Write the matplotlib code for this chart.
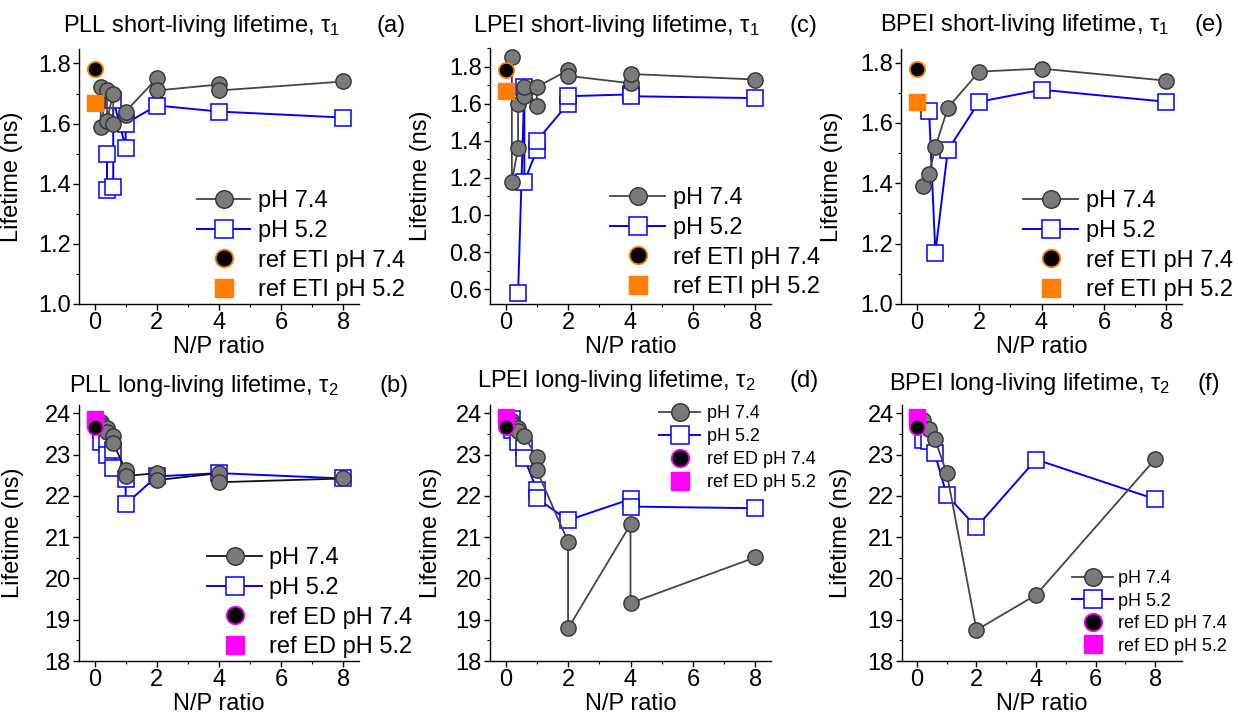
import matplotlib
matplotlib.use('Agg')
import matplotlib.pyplot as plt
from matplotlib.ticker import MultipleLocator, FormatStrFormatter

plt.rcParams['font.family'] = ['Liberation Sans', 'DejaVu Sans']
plt.rcParams['mathtext.fontset'] = 'custom'
plt.rcParams['mathtext.rm'] = 'Liberation Sans'
plt.rcParams['mathtext.it'] = 'Liberation Sans:italic'

W, H = 1238, 717
fig = plt.figure(figsize=(W / 100, H / 100), dpi=100)

# ---------------- data ----------------
ref_x = [0]

# (a) PLL tau1
a_x74 = [0.2, 0.2, 0.4, 0.4, 0.6, 0.6, 1, 1, 2, 2, 4, 4, 8]
a_y74 = [1.72, 1.59, 1.71, 1.61, 1.70, 1.60, 1.63, 1.64, 1.75, 1.71, 1.73, 1.71, 1.74]
a_x52 = [0.4, 0.4, 0.6, 0.6, 1, 1, 2, 4, 8]
a_y52 = [1.50, 1.38, 1.39, 1.68, 1.52, 1.60, 1.66, 1.64, 1.62]
a_ref74 = [1.78]
a_ref52 = [1.67]

# (b) PLL tau2
b_x74 = [0.2, 0.2, 0.4, 0.4, 0.6, 0.6, 1, 1, 2, 2, 4, 4, 8]
b_y74 = [23.80, 23.72, 23.65, 23.55, 23.45, 23.28, 22.62, 22.48, 22.55, 22.38, 22.55, 22.33, 22.42]
b_x52 = [0.2, 0.2, 0.4, 0.4, 0.6, 0.6, 1, 1, 2, 4, 8]
b_y52 = [23.60, 23.30, 23.35, 23.00, 23.10, 22.67, 22.40, 21.80, 22.47, 22.55, 22.42]
b_ref74 = [23.67]
b_ref52 = [23.86]

# (c) LPEI tau1
c_x74 = [0.2, 0.2, 0.4, 0.4, 0.6, 0.6, 1, 1, 2, 2, 4, 4, 8]
c_y74 = [1.85, 1.18, 1.36, 1.60, 1.64, 1.69, 1.59, 1.69, 1.78, 1.75, 1.71, 1.76, 1.73]
c_x52 = [0.4, 0.6, 0.6, 1, 1, 2, 2, 4, 4, 8]
c_y52 = [0.58, 1.69, 1.18, 1.35, 1.40, 1.60, 1.64, 1.65, 1.64, 1.63]
c_ref74 = [1.78]
c_ref52 = [1.67]

# (d) LPEI tau2
d_x74 = [0.2, 0.2, 0.4, 0.4, 0.6, 1, 1, 2, 2, 4, 4, 8]
d_y74 = [23.82, 23.75, 23.65, 23.58, 23.45, 22.93, 22.62, 20.89, 18.79, 21.31, 19.40, 20.51]
d_x52 = [0.2, 0.2, 0.4, 0.6, 0.6, 1, 1, 2, 4, 4, 8]
d_y52 = [23.85, 23.60, 23.31, 23.15, 22.91, 22.14, 21.94, 21.41, 21.92, 21.74, 21.70]
d_ref74 = [23.67]
d_ref52 = [23.90]

# (e) BPEI tau1
e_x74 = [0.2, 0.4, 0.6, 1, 2, 4, 8]
e_y74 = [1.39, 1.43, 1.52, 1.65, 1.77, 1.78, 1.74]
e_x52 = [0.4, 0.6, 1, 2, 4, 8]
e_y52 = [1.64, 1.17, 1.51, 1.67, 1.71, 1.67]
e_ref74 = [1.78]
e_ref52 = [1.67]

# (f) BPEI tau2
f_x74 = [0.2, 0.4, 0.6, 1, 2, 4, 8]
f_y74 = [23.84, 23.63, 23.38, 22.56, 18.75, 19.60, 22.89]
f_x52 = [0.2, 0.4, 0.6, 1, 2, 4, 8]
f_y52 = [23.35, 23.33, 23.03, 22.02, 21.24, 22.88, 21.92]
f_ref74 = [23.67]
f_ref52 = [23.90]

titles = {
    'a': r'PLL short-living lifetime, $\mathregular{\tau_1}$',
    'b': r'PLL long-living lifetime, $\mathregular{\tau_2}$',
    'c': r'LPEI short-living lifetime, $\mathregular{\tau_1}$',
    'd': r'LPEI long-living lifetime, $\mathregular{\tau_2}$',
    'e': r'BPEI short-living lifetime, $\mathregular{\tau_1}$',
    'f': r'BPEI long-living lifetime, $\mathregular{\tau_2}$',
}
ref_eti = ['ref ETI pH 7.4', 'ref ETI pH 5.2']
ref_ed = ['ref ED pH 7.4', 'ref ED pH 5.2']

# ---------------- styling ----------------
GRAY_FACE = '#7a7a7a'
GRAY_EDGE = '#333333'
BLUE = '#0000ff'
ORANGE = '#ff7f00'
MAGENTA = '#ff00ff'
FS = 17

panels = [
    dict(k='a', x74=a_x74, y74=a_y74, x52=a_x52, y52=a_y52, r74=a_ref74, r52=a_ref52,
         box=(79, 49, 359, 304), ylim=(1.0, 1.848), ymaj=0.2, ymin=0.1, fmt='%.1f', xlim=(-0.5, 8.5),
         rc=ORANGE, rl=ref_eti, lc='#454545', leg=(197, 190, FS, 2.25, 0.34, 0.33), ylo=56,
         t=(201.5, 32), l=(391.5, 32)),
    dict(k='b', x74=b_x74, y74=b_y74, x52=b_x52, y52=b_y52, r74=b_ref74, r52=b_ref52,
         box=(79, 405, 359, 661), ylim=(18, 24.2), ymaj=1, ymin=0.5, fmt='%d', xlim=(-0.5, 8.5),
         rc=MAGENTA, rl=ref_ed, lc='#111111', leg=(207, 547, FS, 2.33, 0.30, 0.33), ylo=55,
         t=(204, 392), l=(394, 392)),
    dict(k='c', x74=c_x74, y74=c_y74, x52=c_x52, y52=c_y52, r74=c_ref74, r52=c_ref52,
         box=(490, 48, 771, 304), ylim=(0.52, 1.90), ymaj=0.2, ymin=0.1, fmt='%.1f', xlim=(-0.5, 8.5),
         rc=ORANGE, rl=ref_eti, lc='#454545', leg=(610, 187, FS, 2.33, 0.34, 0.33), ylo=58,
         t=(616.5, 32), l=(803.5, 32)),
    dict(k='d', x74=d_x74, y74=d_y74, x52=d_x52, y52=d_y52, r74=d_ref74, r52=d_ref52,
         box=(490, 405, 771, 661), ylim=(18, 24.2), ymaj=1, ymin=0.5, fmt='%d', xlim=(-0.5, 8.5),
         rc=MAGENTA, rl=ref_ed, lc='#454545', leg=(659, 405, 13, 2.28, 0.39, 0.33), ylo=48,
         t=(616, 387), l=(804, 387)),
    dict(k='e', x74=e_x74, y74=e_y74, x52=e_x52, y52=e_y52, r74=e_ref74, r52=e_ref52,
         box=(901, 49, 1182, 304), ylim=(1.0, 1.845), ymaj=0.2, ymin=0.1, fmt='%.1f', xlim=(-0.5, 8.5),
         rc=ORANGE, rl=ref_eti, lc='#454545', leg=(1023, 190, FS, 2.33, 0.34, 0.33), ylo=58,
         t=(1025, 31), l=(1209.5, 31)),
    dict(k='f', x74=f_x74, y74=f_y74, x52=f_x52, y52=f_y52, r74=f_ref74, r52=f_ref52,
         box=(902, 405, 1182, 661), ylim=(18, 24.2), ymaj=1, ymin=0.5, fmt='%d', xlim=(-0.5, 8.9),
         rc=MAGENTA, rl=ref_ed, lc='#454545', leg=(1072, 570, 13, 2.28, 0.28, 0.31), ylo=50,
         t=(1030, 390), l=(1209, 390)),
]

MS = 11
for p in panels:
    l, t, r, b = p['box']
    ax = fig.add_axes([l / W, 1 - b / H, (r - l) / W, (b - t) / H])
    h52, = ax.plot(p['x52'], p['y52'], color=BLUE, lw=1.4, marker='s', ms=MS, mfc='white',
                   mec=BLUE, mew=1.1, zorder=2, clip_on=False)
    h74, = ax.plot(p['x74'], p['y74'], color=p['lc'], lw=1.3, marker='o', ms=MS, mfc=GRAY_FACE,
                   mec=GRAY_EDGE, mew=1.0, zorder=3, clip_on=False)
    hr52, = ax.plot(ref_x, p['r52'], ls='none', marker='s', ms=MS, mfc=p['rc'], mec=p['rc'],
                    mew=1.0, zorder=4, clip_on=False)
    hr74, = ax.plot(ref_x, p['r74'], ls='none', marker='o', ms=MS, mfc='black', mec=p['rc'],
                    mew=1.3, zorder=5, clip_on=False)

    ax.set_xlim(*p['xlim'])
    ax.set_ylim(*p['ylim'])
    ax.xaxis.set_major_locator(MultipleLocator(2))
    ax.xaxis.set_minor_locator(MultipleLocator(1))
    ax.yaxis.set_major_locator(MultipleLocator(p['ymaj']))
    ax.yaxis.set_minor_locator(MultipleLocator(p['ymin']))
    ax.yaxis.set_major_formatter(FormatStrFormatter(p['fmt']))
    for s in ('top', 'right'):
        ax.spines[s].set_visible(False)
    for s in ('left', 'bottom'):
        ax.spines[s].set_linewidth(1.0)
    ax.tick_params(which='major', direction='out', length=4, width=1.0, labelsize=FS, pad=2)
    ax.tick_params(which='minor', direction='out', length=2.5, width=0.8)

    ax.set_xlabel('N/P ratio', fontsize=FS, labelpad=1)
    ax.set_ylabel('Lifetime (ns)', fontsize=FS)
    ax.yaxis.set_label_coords(-p['ylo'] / (r - l), 0.5)

    lx, ltop, lfs, hl, htp, ls = p['leg']
    ax.legend([h74, h52, hr74, hr52], ['pH 7.4', 'pH 5.2', p['rl'][0], p['rl'][1]],
              loc='upper left', bbox_to_anchor=(lx / W, 1 - ltop / H),
              bbox_transform=fig.transFigure, frameon=False, borderpad=0, borderaxespad=0,
              fontsize=lfs, handlelength=hl, handletextpad=htp, labelspacing=ls,
              markerscale=1.15, numpoints=1)

    tx, ty = p['t']
    fig.text(tx / W, 1 - ty / H, titles[p['k']], fontsize=FS, ha='center', va='baseline')
    lx2, ly2 = p['l']
    fig.text(lx2 / W, 1 - ly2 / H, '(%s)' % p['k'], fontsize=FS, ha='center', va='baseline')

fig.savefig('out.png', dpi=100)
